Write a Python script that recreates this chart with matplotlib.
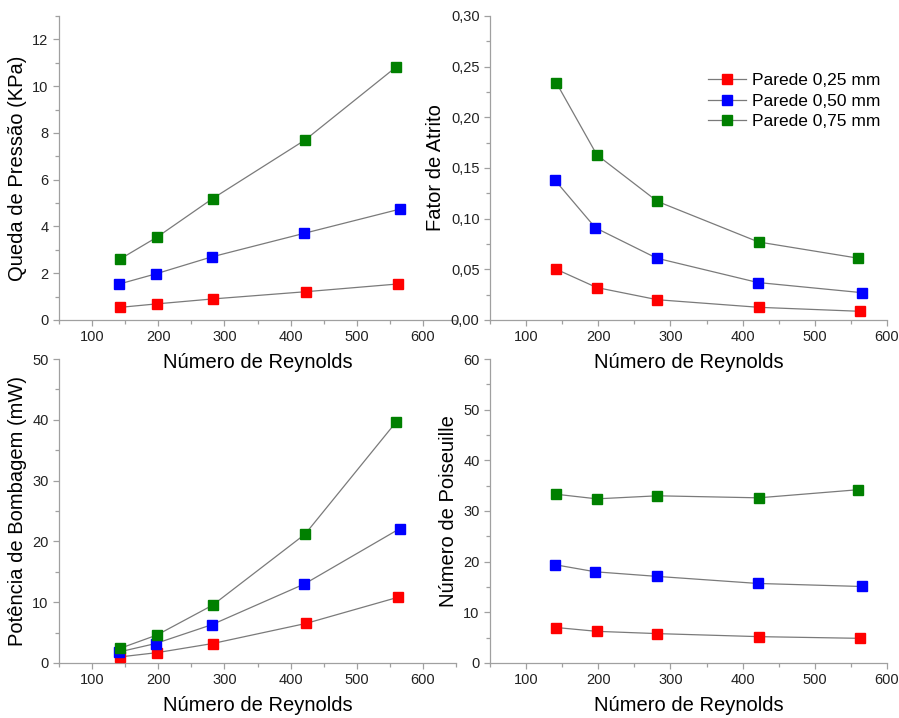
"""
Queda de pressão, fator de atrito, potência de bombagem e número de Poiseuille
"""
import matplotlib
matplotlib.use("Agg")
import matplotlib.pyplot as plt
from matplotlib.ticker import MultipleLocator, FuncFormatter

plt.rcParams['font.family'] = ['Liberation Sans', 'DejaVu Sans']

# Dados
re_025 = [142, 198, 282, 423, 562]
re_050 = [140, 196, 281, 421, 565]
re_075 = [142, 198, 282, 422, 560]

dp_025 = [0.54, 0.69, 0.90, 1.21, 1.54]
dp_050 = [1.53, 1.97, 2.70, 3.71, 4.74]
dp_075 = [2.60, 3.54, 5.19, 7.70, 10.83]

f_025 = [0.050, 0.032, 0.020, 0.0125, 0.0086]
f_050 = [0.138, 0.091, 0.061, 0.037, 0.027]
f_075 = [0.234, 0.163, 0.117, 0.077, 0.061]

pot_025 = [1.0, 1.7, 3.2, 6.5, 10.8]
pot_050 = [1.8, 3.2, 6.3, 13.0, 22.1]
pot_075 = [2.4, 4.6, 9.5, 21.2, 39.7]

po_025 = [7.0, 6.25, 5.8, 5.2, 4.87]
po_050 = [19.4, 18.0, 17.1, 15.7, 15.1]
po_075 = [33.3, 32.4, 33.0, 32.6, 34.2]

legendas = ['Parede 0,25 mm', 'Parede 0,50 mm', 'Parede 0,75 mm']
cores = ['#ff0000', '#0000ff', '#008000']
re_series = [re_025, re_050, re_075]

fig = plt.figure(figsize=(8.99, 7.18), dpi=100)
W, H = 899, 718


def eixo(x0, y_top, y_bot, w=397):
    return fig.add_axes([x0 / W, 1 - y_bot / H, w / W, (y_bot - y_top) / H])


ax1 = eixo(59, 16, 320)
ax2 = eixo(490, 16, 320)
ax3 = eixo(59, 359, 663)
ax4 = eixo(490, 359, 663)

paineis = [
    (ax1, [dp_025, dp_050, dp_075], 'Queda de Pressão (KPa)', (50, 650), (0, 13), 2, 1),
    (ax2, [f_025, f_050, f_075], 'Fator de Atrito', (50, 600), (0, 0.30), 0.05, 0.025),
    (ax3, [pot_025, pot_050, pot_075], 'Potência de Bombagem (mW)', (50, 650), (0, 50), 10, 5),
    (ax4, [po_025, po_050, po_075], 'Número de Poiseuille', (50, 600), (0, 60), 10, 5),
]

for ax, dados, ylabel, xlim, ylim, ymaj, ymin in paineis:
    for xs, ys, cor, nome in zip(re_series, dados, cores, legendas):
        ax.plot(xs, ys, '-', color='#7a7a7a', lw=0.9, marker='s', ms=7,
                mfc=cor, mec=cor, label=nome, zorder=3)
    ax.set_xlim(*xlim)
    ax.set_ylim(*ylim)
    ax.xaxis.set_major_locator(MultipleLocator(100))
    ax.xaxis.set_minor_locator(MultipleLocator(50))
    ax.yaxis.set_major_locator(MultipleLocator(ymaj))
    ax.yaxis.set_minor_locator(MultipleLocator(ymin))
    for lado in ['top', 'right']:
        ax.spines[lado].set_visible(False)
    for lado in ['left', 'bottom']:
        ax.spines[lado].set_color('#a0a0a0')
        ax.spines[lado].set_linewidth(0.9)
    ax.tick_params(which='both', direction='out', color='#a0a0a0', width=0.9,
                   labelsize=10.5, labelcolor='#222222')
    ax.tick_params(which='major', length=4)
    ax.tick_params(which='minor', length=3)
    ax.set_xlabel('Número de Reynolds', fontsize=14.5, labelpad=6)
    ax.set_ylabel(ylabel, fontsize=14.5, labelpad=4)
    ax.patch.set_alpha(0)

ax1.set_xticks(range(100, 601, 100))
ax3.set_xticks(range(100, 601, 100))
ax2.yaxis.set_major_formatter(FuncFormatter(lambda v, p: f'{v:.2f}'.replace('.', ',')))

leg = ax2.legend(loc='upper right', bbox_to_anchor=(1.0, 0.835), frameon=False,
                 fontsize=12.5, handlelength=2.2, handletextpad=0.3,
                 labelspacing=0.3, borderaxespad=0)

fig.savefig('out.png', dpi=100)
print("Gráfico guardado: out.png")
